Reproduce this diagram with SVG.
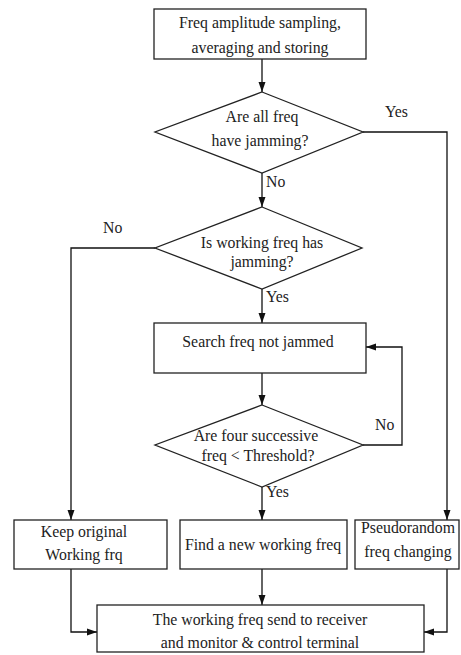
<svg xmlns="http://www.w3.org/2000/svg" width="461" height="655" viewBox="0 0 461 655">
<defs>
<style>
.box{fill:#fff;stroke:#222;stroke-width:1.3}
.ln{fill:none;stroke:#111;stroke-width:1.3}
text{font-family:"Liberation Serif","Times New Roman",serif;font-size:15.8px;fill:#222;text-anchor:middle}
.lbl{text-anchor:start}
</style>
<marker id="ah" viewBox="0 0 10 10" refX="10" refY="5" markerWidth="10" markerHeight="10" markerUnits="userSpaceOnUse" orient="auto">
<path d="M0,1.5 L10,5 L0,8.5 Z" fill="#111"/>
</marker>
</defs>
<rect width="461" height="655" fill="#fff"/>
<g id="connectors">
<line class="ln" x1="262" y1="59" x2="262" y2="92" marker-end="url(#ah)"/>
<polyline class="ln" points="363,132 447,132 447,520" marker-end="url(#ah)"/>
<line class="ln" x1="262" y1="173" x2="262" y2="207" marker-end="url(#ah)"/>
<polyline class="ln" points="155,248 71,248 71,520" marker-end="url(#ah)"/>
<line class="ln" x1="262" y1="289" x2="262" y2="323" marker-end="url(#ah)"/>
<line class="ln" x1="262" y1="373" x2="262" y2="405" marker-end="url(#ah)"/>
<polyline class="ln" points="363,445 402,445 402,347 366,347" marker-end="url(#ah)"/>
<line class="ln" x1="262" y1="487" x2="262" y2="520" marker-end="url(#ah)"/>
<line class="ln" x1="262" y1="569" x2="262" y2="605" marker-end="url(#ah)"/>
<polyline class="ln" points="71,569 71,632 97,632" marker-end="url(#ah)"/>
<polyline class="ln" points="447,569 447,632 424,632" marker-end="url(#ah)"/>
<text class="lbl" x="385" y="117">Yes</text>
<text class="lbl" x="266" y="187">No</text>
<text class="lbl" x="103" y="233">No</text>
<text class="lbl" x="266" y="302">Yes</text>
<text class="lbl" x="375" y="430">No</text>
<text class="lbl" x="266" y="497">Yes</text>
</g>
<g id="n1"><rect class="box" x="154" y="9" width="212" height="50"/>
<text x="260" y="28">Freq amplitude sampling,</text><text x="260" y="53">averaging and storing</text></g>
<g id="n2"><polygon class="box" points="262,92 363,132 262,173 155,132"/>
<text x="262" y="122">Are all freq</text><text x="260" y="146">have jamming?</text></g>
<g id="n3"><polygon class="box" points="262,207 362,248 262,289 155,248"/>
<text x="262" y="248">Is working freq has</text><text x="262" y="267">jamming?</text></g>
<g id="n4"><rect class="box" x="154" y="323" width="212" height="50"/>
<text x="258" y="347">Search freq not jammed</text></g>
<g id="n5"><polygon class="box" points="262,405 363,445 262,487 155,445"/>
<text x="256" y="441">Are four successive</text><text x="258" y="461">freq &lt; Threshold?</text></g>
<g id="n6"><rect class="box" x="14" y="520" width="153" height="49"/>
<text x="84" y="537">Keep original</text><text x="84" y="560">Working frq</text></g>
<g id="n7"><rect class="box" x="180" y="520" width="167" height="49"/>
<text x="263" y="550">Find a new working freq</text></g>
<g id="n8"><rect class="box" x="355" y="520" width="104" height="49"/>
<text x="408" y="533">Pseudorandom</text><text x="408" y="557">freq changing</text></g>
<g id="n9"><rect class="box" x="97" y="605" width="327" height="47"/>
<text x="260" y="625">The working freq send to receiver</text><text x="260" y="648">and monitor &amp; control terminal</text></g>
</svg>
